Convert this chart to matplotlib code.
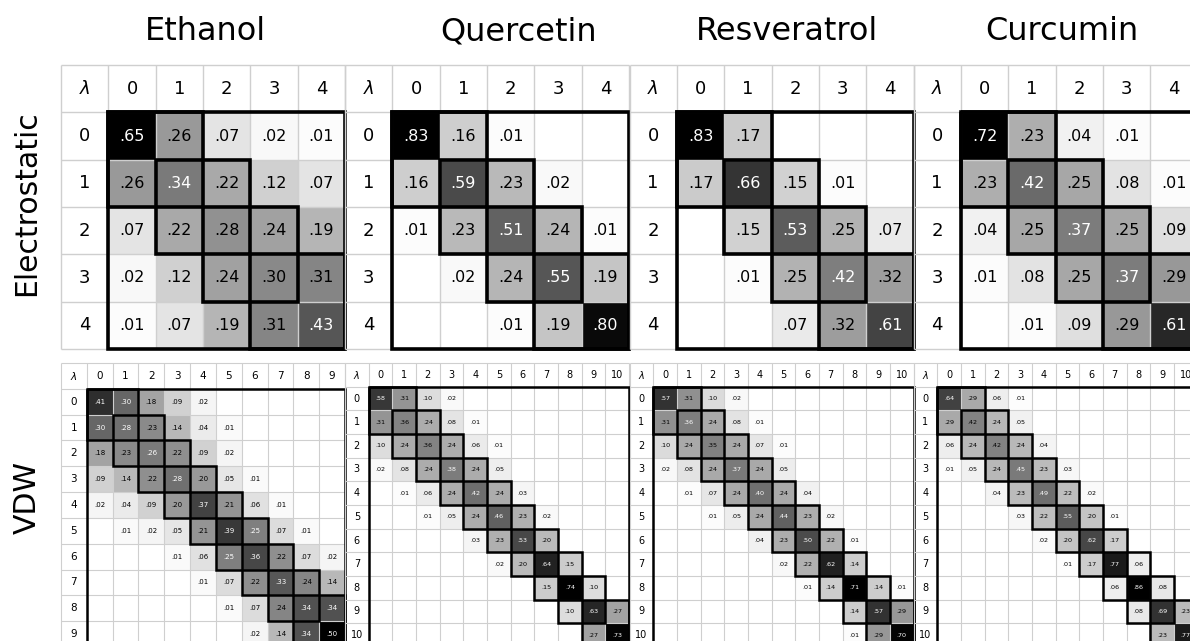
import numpy as np
import matplotlib
matplotlib.use("Agg")
import matplotlib.pyplot as plt
from matplotlib.patches import Rectangle

# ---- data -------------------------------------------------------------
molecules = ["Ethanol", "Quercetin", "Resveratrol", "Curcumin"]
interactions = ["Electrostatic", "VDW"]

elec_ethanol = [
    [.65, .26, .07, .02, .01],
    [.26, .34, .22, .12, .07],
    [.07, .22, .28, .24, .19],
    [.02, .12, .24, .30, .31],
    [.01, .07, .19, .31, .43],
]
elec_quercetin = [
    [.83, .16, .01, 0, 0],
    [.16, .59, .23, .02, 0],
    [.01, .23, .51, .24, .01],
    [0, .02, .24, .55, .19],
    [0, 0, .01, .19, .80],
]
elec_resveratrol = [
    [.83, .17, 0, 0, 0],
    [.17, .66, .15, .01, 0],
    [0, .15, .53, .25, .07],
    [0, .01, .25, .42, .32],
    [0, 0, .07, .32, .61],
]
elec_curcumin = [
    [.72, .23, .04, .01, 0],
    [.23, .42, .25, .08, .01],
    [.04, .25, .37, .25, .09],
    [.01, .08, .25, .37, .29],
    [0, .01, .09, .29, .61],
]

vdw_ethanol = [
    [.41, .30, .18, .09, .02, 0, 0, 0, 0, 0],
    [.30, .28, .23, .14, .04, .01, 0, 0, 0, 0],
    [.18, .23, .26, .22, .09, .02, 0, 0, 0, 0],
    [.09, .14, .22, .28, .20, .05, .01, 0, 0, 0],
    [.02, .04, .09, .20, .37, .21, .06, .01, 0, 0],
    [0, .01, .02, .05, .21, .39, .25, .07, .01, 0],
    [0, 0, 0, .01, .06, .25, .36, .22, .07, .02],
    [0, 0, 0, 0, .01, .07, .22, .33, .24, .14],
    [0, 0, 0, 0, 0, .01, .07, .24, .34, .34],
    [0, 0, 0, 0, 0, 0, .02, .14, .34, .50],
]
vdw_quercetin = [
    [.58, .31, .10, .02, 0, 0, 0, 0, 0, 0, 0],
    [.31, .36, .24, .08, .01, 0, 0, 0, 0, 0, 0],
    [.10, .24, .36, .24, .06, .01, 0, 0, 0, 0, 0],
    [.02, .08, .24, .38, .24, .05, 0, 0, 0, 0, 0],
    [0, .01, .06, .24, .42, .24, .03, 0, 0, 0, 0],
    [0, 0, .01, .05, .24, .46, .23, .02, 0, 0, 0],
    [0, 0, 0, 0, .03, .23, .53, .20, 0, 0, 0],
    [0, 0, 0, 0, 0, .02, .20, .64, .15, 0, 0],
    [0, 0, 0, 0, 0, 0, 0, .15, .74, .10, 0],
    [0, 0, 0, 0, 0, 0, 0, 0, .10, .63, .27],
    [0, 0, 0, 0, 0, 0, 0, 0, 0, .27, .73],
]
vdw_resveratrol = [
    [.57, .31, .10, .02, 0, 0, 0, 0, 0, 0, 0],
    [.31, .36, .24, .08, .01, 0, 0, 0, 0, 0, 0],
    [.10, .24, .35, .24, .07, .01, 0, 0, 0, 0, 0],
    [.02, .08, .24, .37, .24, .05, 0, 0, 0, 0, 0],
    [0, .01, .07, .24, .40, .24, .04, 0, 0, 0, 0],
    [0, 0, .01, .05, .24, .44, .23, .02, 0, 0, 0],
    [0, 0, 0, 0, .04, .23, .50, .22, .01, 0, 0],
    [0, 0, 0, 0, 0, .02, .22, .62, .14, 0, 0],
    [0, 0, 0, 0, 0, 0, .01, .14, .71, .14, .01],
    [0, 0, 0, 0, 0, 0, 0, 0, .14, .57, .29],
    [0, 0, 0, 0, 0, 0, 0, 0, .01, .29, .70],
]
vdw_curcumin = [
    [.64, .29, .06, .01, 0, 0, 0, 0, 0, 0, 0],
    [.29, .42, .24, .05, 0, 0, 0, 0, 0, 0, 0],
    [.06, .24, .42, .24, .04, 0, 0, 0, 0, 0, 0],
    [.01, .05, .24, .45, .23, .03, 0, 0, 0, 0, 0],
    [0, 0, .04, .23, .49, .22, .02, 0, 0, 0, 0],
    [0, 0, 0, .03, .22, .55, .20, .01, 0, 0, 0],
    [0, 0, 0, 0, .02, .20, .62, .17, 0, 0, 0],
    [0, 0, 0, 0, 0, .01, .17, .77, .06, 0, 0],
    [0, 0, 0, 0, 0, 0, 0, .06, .86, .08, 0],
    [0, 0, 0, 0, 0, 0, 0, 0, .08, .69, .23],
    [0, 0, 0, 0, 0, 0, 0, 0, 0, .23, .77],
]

elec_mats = [elec_ethanol, elec_quercetin, elec_resveratrol, elec_curcumin]
vdw_mats = [vdw_ethanol, vdw_quercetin, vdw_resveratrol, vdw_curcumin]

# ---- layout (pixels) --------------------------------------------------
W, H = 1190, 641
fig = plt.figure(figsize=(W / 100, H / 100), dpi=100)
plt.rcParams["font.family"] = ["DejaVu Sans"]

panel_left = [61, 345, 629.5, 913.5]
panel_width = 284
row_top = [65, 363]
grid_color = "#cfcfcf"


def fmt(v):
    return ("%.2f" % v)[1:] if v < 1 else "%.2f" % v


def draw_matrix(left, top, mat, head_fs, val_fs, box_lw, grid_lw):
    M = np.asarray(mat, dtype=float)
    n = M.shape[0]
    cell = panel_width / (n + 1)
    size = cell * (n + 1)
    ax = fig.add_axes([left / W, 1 - (top + size) / H, size / W, size / H])
    ax.set_xlim(-1, n)
    ax.set_ylim(n, -1)
    ax.axis("off")

    vmax = M.max()
    ax.pcolormesh(np.arange(n + 1), np.arange(n + 1), M, cmap="gray_r",
                  vmin=0, vmax=vmax, shading="flat", zorder=1)

    # light table grid, including header row and column
    for k in range(-1, n + 1):
        ax.plot([-1, n], [k, k], color=grid_color, lw=grid_lw, zorder=2,
                clip_on=False, solid_capstyle="butt")
        ax.plot([k, k], [-1, n], color=grid_color, lw=grid_lw, zorder=2,
                clip_on=False, solid_capstyle="butt")

    # overlapping 2x2 blocks along the diagonal and the outer frame
    for k in range(n - 1):
        ax.add_patch(Rectangle((k, k), 2, 2, fill=False, ec="black",
                               lw=box_lw, zorder=4, clip_on=False))
    ax.add_patch(Rectangle((0, 0), n, n, fill=False, ec="black",
                           lw=box_lw, zorder=5, clip_on=False))

    # headers
    ax.text(-0.5, -0.5, r"$\lambda$", ha="center", va="center",
            fontsize=head_fs, zorder=6)
    for k in range(n):
        ax.text(k + 0.5, -0.5, str(k), ha="center", va="center",
                fontsize=head_fs, zorder=6)
        ax.text(-0.5, k + 0.5, str(k), ha="center", va="center",
                fontsize=head_fs, zorder=6)

    # cell values
    for i in range(n):
        for j in range(n):
            v = M[i, j]
            if v < 0.005:
                continue
            color = "white" if v / vmax >= 0.5 else "black"
            ax.text(j + 0.5, i + 0.5, fmt(v), ha="center", va="center",
                    fontsize=val_fs, color=color, zorder=6)
    return ax


for c in range(4):
    draw_matrix(panel_left[c], row_top[0], elec_mats[c],
                head_fs=13, val_fs=11.5, box_lw=2.6, grid_lw=1.0)
    n = len(vdw_mats[c])
    draw_matrix(panel_left[c], row_top[1], vdw_mats[c],
                head_fs=7.5 if n == 10 else 7, val_fs=5 if n == 10 else 4.6,
                box_lw=1.8, grid_lw=0.8)

# column titles and row labels
title_x = [205, 519, 787, 1062]
for c, name in enumerate(molecules):
    fig.text(title_x[c] / W, 1 - 32 / H, name, ha="center", va="center",
             fontsize=23)
fig.text(27 / W, 1 - 203 / H, interactions[0], rotation=90,
         ha="center", va="center", fontsize=21.5)
fig.text(27 / W, 1 - 498 / H, interactions[1], rotation=90,
         ha="center", va="center", fontsize=21.5)

fig.savefig("out.png", dpi=100)
